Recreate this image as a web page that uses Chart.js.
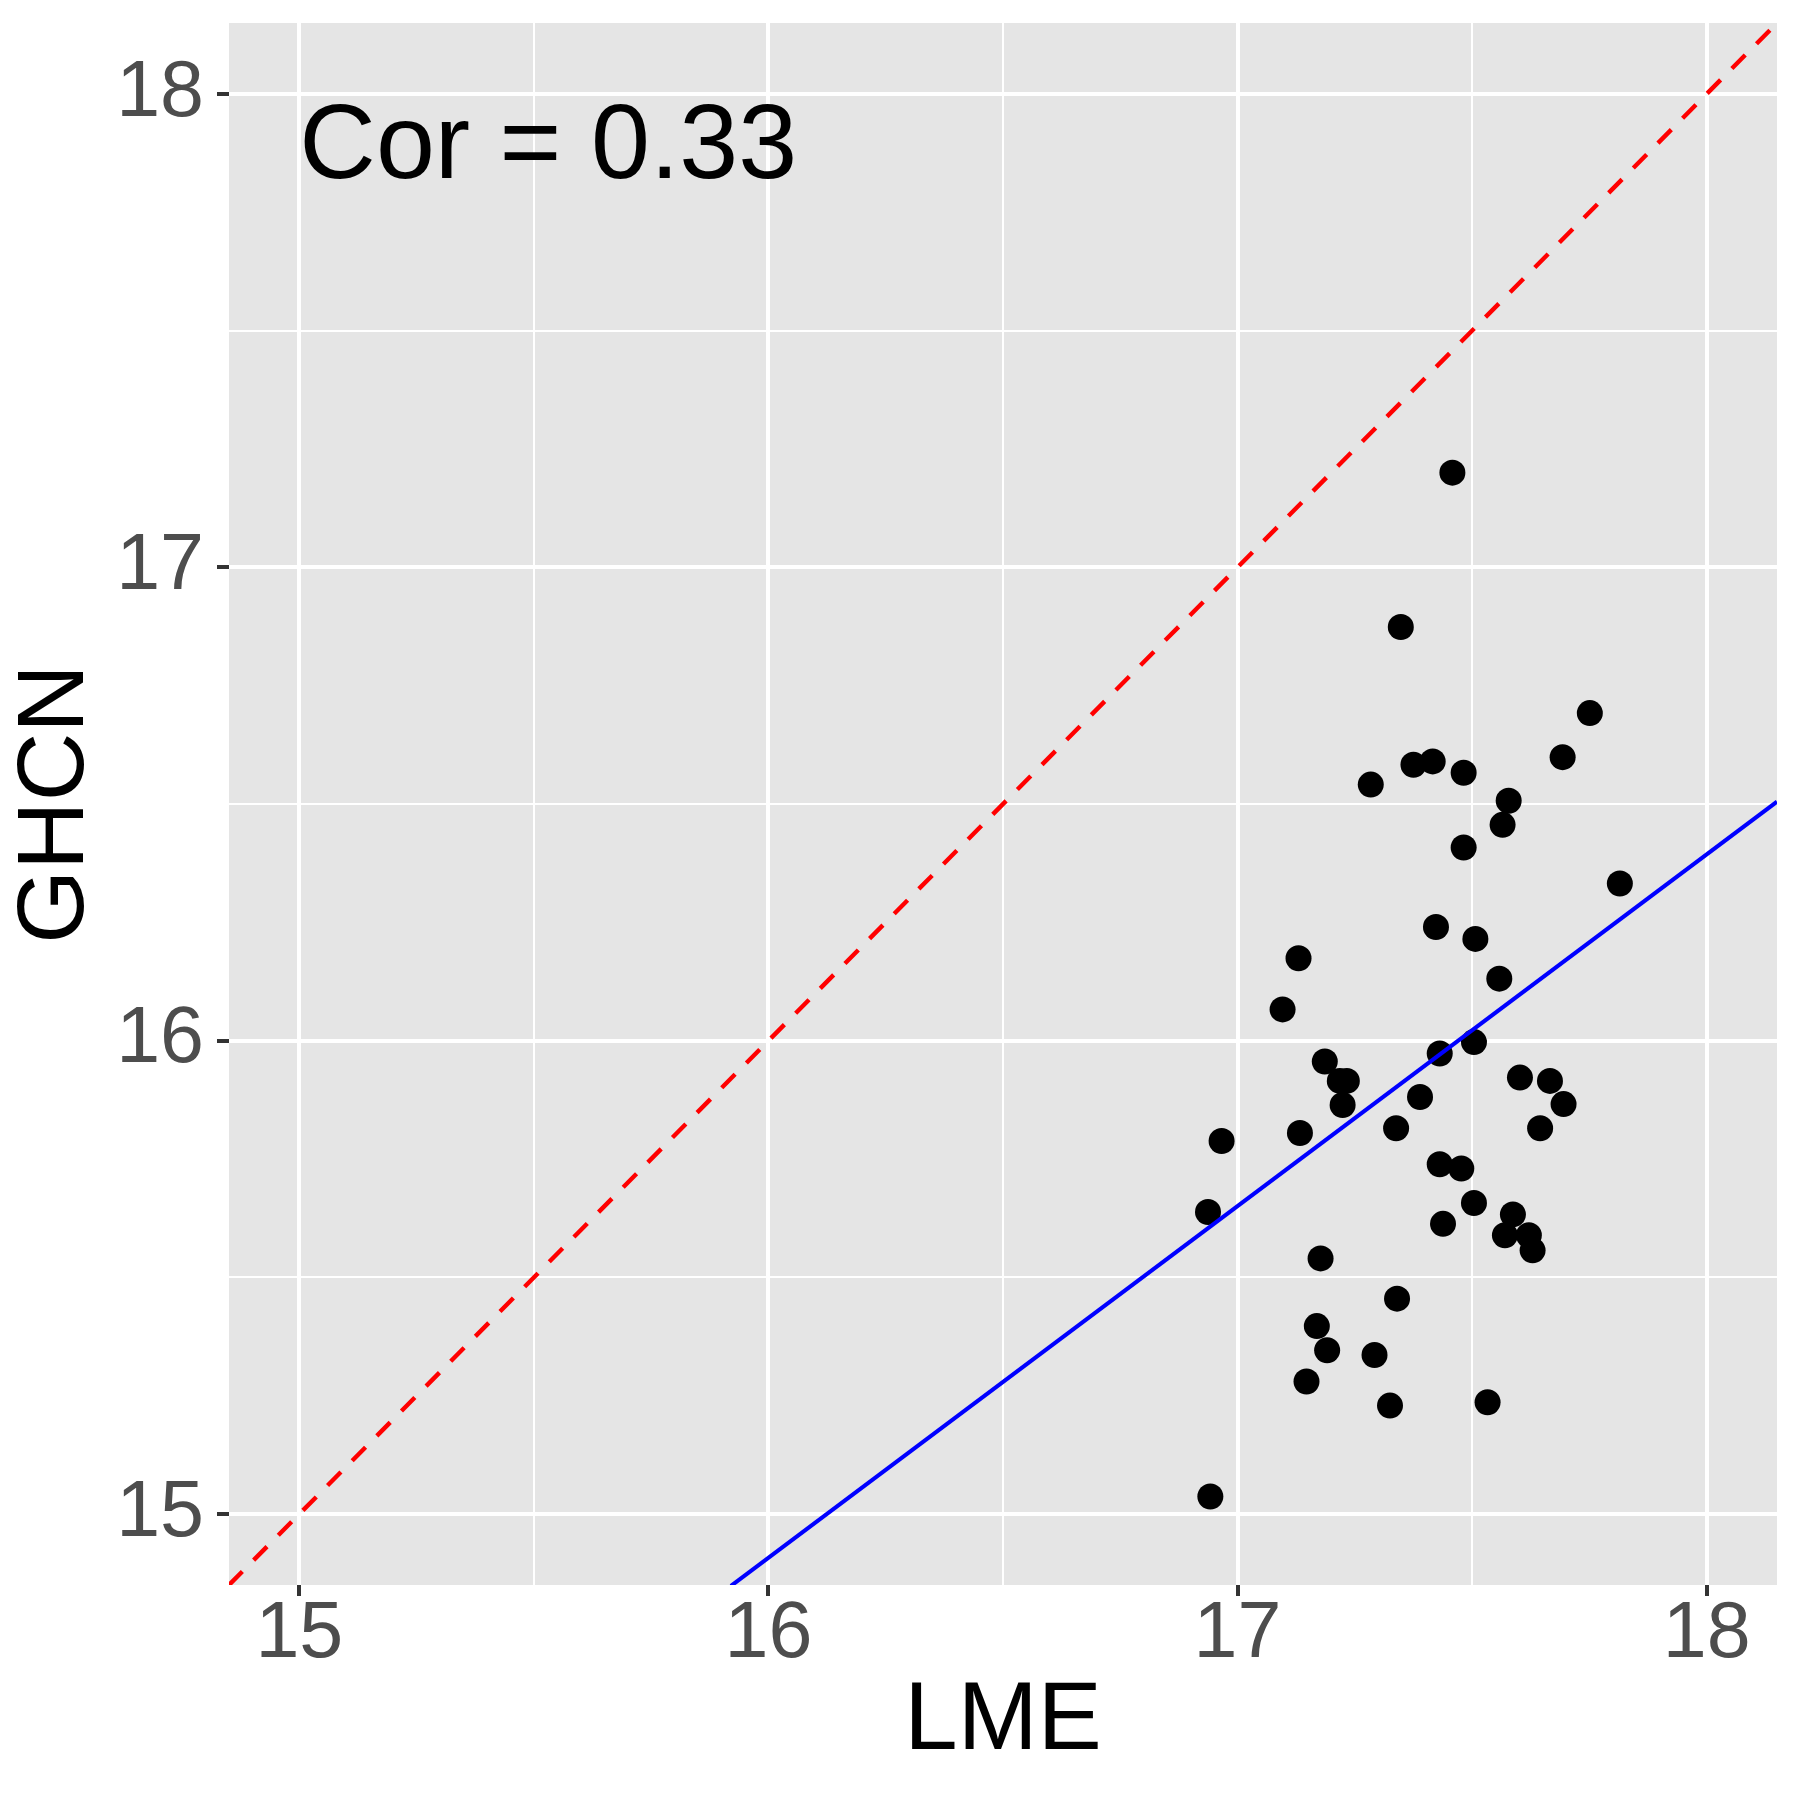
<!DOCTYPE html>
<html>
<head>
<meta charset="utf-8">
<script src="https://cdn.jsdelivr.net/npm/chart.js@4/dist/chart.umd.min.js"></script>
<style>
  html, body { margin: 0; padding: 0; background: #ffffff; }
  #wrap { width: 1800px; height: 1800px; }
</style>
</head>
<body>
<div id="wrap"><canvas id="corChart" width="1800" height="1800"></canvas></div>
<script>
// LME vs GHCN values
const lmeValues = [
  17.458, 17.348, 17.751, 17.693, 17.375, 17.416, 17.482, 17.284, 17.578, 17.565,
  17.482, 17.815, 17.423, 17.507, 17.130, 17.558, 17.096, 17.504, 17.431, 17.186,
  17.218, 17.233, 17.602, 17.666, 17.389, 17.224, 17.695, 17.338, 17.645, 17.133,
  16.966, 17.431, 17.477, 17.504, 16.937, 17.587, 17.438, 17.570, 17.621, 17.629,
  17.177, 17.340, 17.169, 17.191, 17.292, 17.147, 17.325, 17.533, 16.942
];
const ghcnValues = [
  17.200, 16.874, 16.692, 16.599, 16.583, 16.590, 16.566, 16.541, 16.507, 16.456,
  16.408, 16.332, 16.240, 16.215, 16.174, 16.131, 16.066, 15.997, 15.973, 15.956,
  15.915, 15.915, 15.922, 15.915, 15.881, 15.864, 15.866, 15.815, 15.815, 15.805,
  15.788, 15.739, 15.730, 15.657, 15.638, 15.633, 15.613, 15.589, 15.589, 15.557,
  15.540, 15.455, 15.397, 15.346, 15.336, 15.280, 15.229, 15.236, 15.037
];

// fitted line (blue) end points and the 1:1 line (red, dashed)
const fitX = [15.92, 18.15];
const fitY = [14.848, 16.505];
const identityRange = [14.85, 18.15];

const axisRange = [14.85, 18.15];
const tickValues = [15, 15.5, 16, 16.5, 17, 17.5, 18];

const corLabel = 'Cor = 0.33';
const corPos = [15, 17.885];

const FONT = '"Liberation Sans", Arial, Helvetica, sans-serif';
const isMajor = v => Math.abs(v - Math.round(v)) < 1e-9;

// grey panel behind the plot + the correlation text
const panelPlugin = {
  id: 'panel',
  beforeDraw(chart) {
    const { ctx, chartArea: a } = chart;
    ctx.save();
    ctx.fillStyle = '#E5E5E5';
    ctx.fillRect(a.left, a.top, a.right - a.left, a.bottom - a.top);
    ctx.restore();
  },
  afterDatasetsDraw(chart) {
    const { ctx, scales } = chart;
    ctx.save();
    ctx.fillStyle = '#000000';
    ctx.font = '106px ' + FONT;
    ctx.textAlign = 'left';
    ctx.textBaseline = 'middle';
    ctx.fillText(corLabel, scales.x.getPixelForValue(corPos[0]), scales.y.getPixelForValue(corPos[1]));
    ctx.restore();
  }
};

function axisOptions(title, isX) {
  return {
    type: 'linear',
    min: axisRange[0],
    max: axisRange[1],
    afterBuildTicks(scale) {
      scale.ticks = tickValues.map(v => ({ value: v }));
    },
    afterFit(scale) {
      // fixed axis sizes, no extra room for overhanging labels
      if (isX) scale.height = 215;
      else scale.width = 229;
      scale.paddingTop = 0;
      scale.paddingBottom = 0;
      scale.paddingLeft = 0;
      scale.paddingRight = 0;
    },
    border: { display: false },
    grid: {
      color: '#FFFFFF',
      lineWidth: c => (c.tick && isMajor(c.tick.value)) ? 4 : 2,
      drawTicks: true,
      tickLength: isX ? 11 : 12,
      tickWidth: 4,
      tickColor: c => (c.tick && isMajor(c.tick.value)) ? '#333333' : 'rgba(0,0,0,0)'
    },
    ticks: {
      autoSkip: false,
      maxRotation: 0,
      color: '#4D4D4D',
      padding: isX ? 0 : 13,
      font: { family: FONT, size: 79, lineHeight: 1 },
      callback: v => isMajor(v) ? String(Math.round(v)) : ''
    },
    title: {
      display: true,
      text: title,
      color: '#000000',
      font: { family: FONT, size: isX ? 96 : 95, lineHeight: 1 },
      padding: isX ? { top: 0, bottom: 29 } : { top: 9, bottom: 0 }
    }
  };
}

const ctx = document.getElementById('corChart').getContext('2d');
new Chart(ctx, {
  type: 'scatter',
  data: {
    datasets: [
      {
        label: '1:1',
        data: identityRange.map(v => ({ x: v, y: v })),
        showLine: true,
        borderColor: '#FF0000',
        borderWidth: 4.4,
        borderDash: [19, 16],
        pointRadius: 0,
        clip: 0,
        order: 1
      },
      {
        label: 'fit',
        data: fitX.map((x, i) => ({ x: x, y: fitY[i] })),
        showLine: true,
        borderColor: '#0000FF',
        borderWidth: 4,
        pointRadius: 0,
        clip: 0,
        order: 1
      },
      {
        label: 'LME vs GHCN',
        data: lmeValues.map((x, i) => ({ x: x, y: ghcnValues[i] })),
        backgroundColor: '#000000',
        borderColor: '#000000',
        borderWidth: 0,
        pointRadius: 13,
        pointHoverRadius: 13,
        order: 2
      }
    ]
  },
  options: {
    responsive: false,
    animation: false,
    devicePixelRatio: 1,
    layout: { padding: { top: 23, right: 23, left: 0, bottom: 0 } },
    plugins: {
      legend: { display: false },
      tooltip: { enabled: false }
    },
    scales: {
      x: axisOptions('LME', true),
      y: axisOptions('GHCN', false)
    }
  },
  plugins: [panelPlugin]
});
</script>
</body>
</html>
